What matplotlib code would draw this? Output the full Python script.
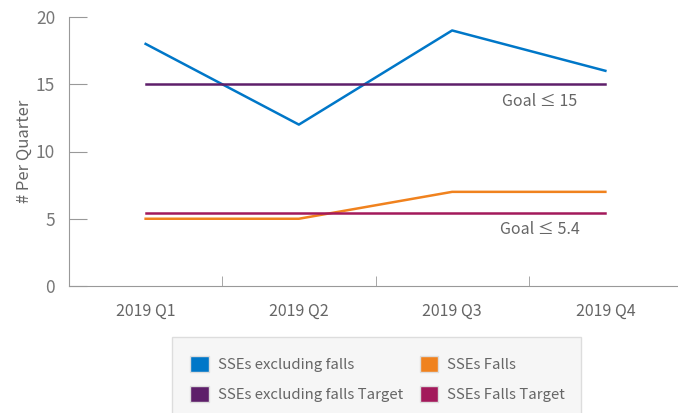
import matplotlib
matplotlib.use('Agg')
import matplotlib.pyplot as plt
from matplotlib.patches import Patch, Rectangle

plt.rcParams['font.family'] = ['Noto Sans CJK JP', 'DejaVu Sans']

# data
quarters = ['2019 Q1', '2019 Q2', '2019 Q3', '2019 Q4']
sses_excl_falls = [18, 12, 19, 16]
sses_falls = [5, 5, 7, 7]
excl_falls_target = [15, 15, 15, 15]
falls_target = [5.4, 5.4, 5.4, 5.4]
y_ticks = [0, 5, 10, 15, 20]

c_blue = '#0077C8'
c_orange = '#F0821E'
c_purple = '#5E1F6A'
c_magenta = '#A3195B'
c_axis = '#999999'
c_text = '#666666'

fig = plt.figure(figsize=(6.78, 4.13), dpi=100)
ax = fig.add_axes([69 / 678, 1 - 286 / 413, 613 / 678, 269 / 413])

x = list(range(len(quarters)))
ax.plot(x, sses_excl_falls, color=c_blue, lw=1.8)
ax.plot(x, sses_falls, color=c_orange, lw=1.8)
ax.plot(x, excl_falls_target, color=c_purple, lw=1.8)
ax.plot(x, falls_target, color=c_magenta, lw=1.8)

ax.set_xlim(-0.5, len(quarters) - 0.5)
ax.set_ylim(0, 20)
ax.set_yticks(y_ticks)
ax.set_xticks(x)
ax.set_xticklabels(quarters)
ax.set_xticks([i + 0.5 for i in x[:-1]], minor=True)
ax.tick_params(axis='x', which='major', length=0, pad=12, labelsize=11.5, labelcolor=c_text)
ax.tick_params(axis='x', which='minor', direction='in', length=7, color=c_axis)
ax.tick_params(axis='y', direction='in', length=13, color=c_axis, labelsize=12.5,
               labelcolor='#777777', pad=10)
for s in ['top', 'right']:
    ax.spines[s].set_visible(False)
for s in ['left', 'bottom']:
    ax.spines[s].set_color(c_axis)
ax.set_ylabel('# Per Quarter', fontsize=12, color=c_text, labelpad=2)

ax.text(2.57, 13.75, 'Goal \u2264 15', color=c_text, fontsize=11.5, ha='center', va='center')
ax.text(2.57, 4.2, 'Goal \u2264 5.4', color=c_text, fontsize=11.5, ha='center', va='center')

# legend box
fig.patches.append(Rectangle((172 / 678, -0.01), 409 / 678, 1 - 337 / 413 + 0.01,
                             transform=fig.transFigure, facecolor='#F6F6F6',
                             edgecolor='#DDDDDD', lw=1))
handles = [Patch(facecolor=c_blue, edgecolor='#dddddd'),
           Patch(facecolor=c_purple, edgecolor='#dddddd'),
           Patch(facecolor=c_orange, edgecolor='#dddddd'),
           Patch(facecolor=c_magenta, edgecolor='#dddddd')]
labels = ['SSEs excluding falls', 'SSEs excluding falls Target',
          'SSEs Falls', 'SSEs Falls Target']
leg = fig.legend(handles, labels, ncol=2, frameon=False, loc='upper left',
                 bbox_to_anchor=(180 / 678, 1 - 346 / 413), fontsize=10.75,
                 handlelength=1.25, handleheight=1.25, handletextpad=0.6,
                 columnspacing=1.1, labelspacing=0.9, borderpad=0.2)
for t in leg.get_texts():
    t.set_color(c_text)

fig.savefig('out.png', dpi=100)
